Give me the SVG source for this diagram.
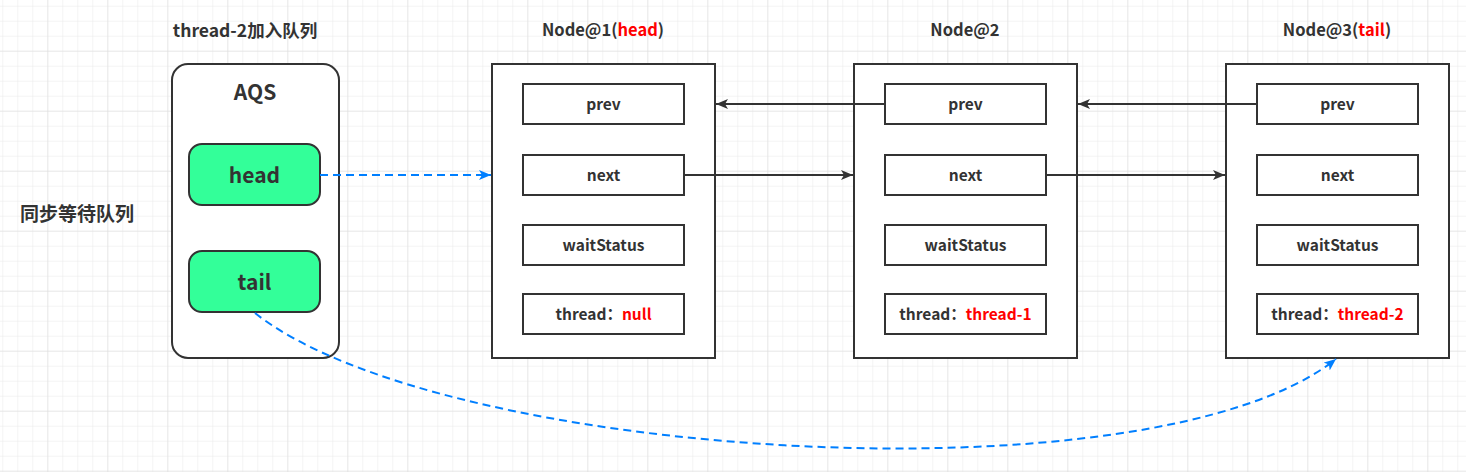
<svg xmlns="http://www.w3.org/2000/svg" width="1466" height="472" viewBox="0 0 1466 472">
<defs>
<pattern id="minor" x="3.3" y="6.7" width="15" height="15" patternUnits="userSpaceOnUse">
<path d="M15 0V15M0 15H15" fill="none" stroke="#e9e9e9" stroke-width="1"/>
</pattern>
<pattern id="major" x="-11.7" y="-8.3" width="60" height="60" patternUnits="userSpaceOnUse">
<path d="M60 0V60M0 60H60" fill="none" stroke="#dcdcdc" stroke-width="1"/>
</pattern>
<marker id="blk" markerWidth="14" markerHeight="12" refX="12" refY="5" orient="auto" markerUnits="userSpaceOnUse">
<path d="M0,0 L12,5 L0,10 L3,5 Z" fill="#333"/>
</marker>
<marker id="blu" markerWidth="14" markerHeight="12" refX="12" refY="5" orient="auto" markerUnits="userSpaceOnUse">
<path d="M0,0 L12,5 L0,10 L3,5 Z" fill="#007FFF"/>
</marker>
</defs>
<style>
text{font-family:"Noto Sans CJK SC","Noto Sans",sans-serif;font-weight:bold;fill:#333;text-anchor:middle;dominant-baseline:central}
.red{fill:#FF0000}
.box{fill:#fff;stroke:#333;stroke-width:2}
.fld{fill:#fff;stroke:#333;stroke-width:2}
.ptr{fill:#33FF99;stroke:#333;stroke-width:2}
.f{font-size:15.5px}
.t{font-size:16.5px}
.solid{fill:none;stroke:#333;stroke-width:2;marker-end:url(#blk)}
.dash{fill:none;stroke:#007FFF;stroke-width:2;stroke-dasharray:8 5;marker-end:url(#blu)}
</style>
<rect width="1466" height="472" fill="#fff"/>
<rect width="1466" height="472" fill="url(#minor)"/>
<rect width="1466" height="472" fill="url(#major)"/>

<g id="title"><text x="245" y="29" style="font-size:17.5px">thread-2加入队列</text></g>
<g id="label-queue"><text x="77" y="212" style="font-size:19px">同步等待队列</text></g>

<g id="aqs">
<rect x="172" y="64" width="167" height="294" rx="16" class="box"/>
<text x="255" y="91" style="font-size:21px">AQS</text>
</g>
<g id="head">
<rect x="189" y="144" width="131" height="61" rx="13" class="ptr"/>
<text x="254.5" y="174" style="font-size:21px">head</text>
</g>
<g id="tail">
<rect x="189" y="251" width="131" height="61" rx="13" class="ptr"/>
<text x="254.5" y="281" style="font-size:21px">tail</text>
</g>

<g id="node1">
<text x="603" y="29" class="t">Node@1(<tspan class="red">head</tspan>)</text>
<rect x="492" y="64" width="223" height="294" class="box"/>
<rect x="523" y="84" width="161" height="40" class="fld"/><text x="603.5" y="103" class="f">prev</text>
<rect x="523" y="155" width="161" height="40" class="fld"/><text x="603.5" y="174" class="f">next</text>
<rect x="523" y="225" width="161" height="40" class="fld"/><text x="603.5" y="244" class="f">waitStatus</text>
<rect x="523" y="294" width="161" height="40" class="fld"/><text x="603.5" y="313" class="f">thread：<tspan class="red">null</tspan></text>
</g>

<g id="node2">
<text x="965" y="29" class="t">Node@2</text>
<rect x="854" y="64" width="223" height="294" class="box"/>
<rect x="885" y="84" width="161" height="40" class="fld"/><text x="965.5" y="103" class="f">prev</text>
<rect x="885" y="155" width="161" height="40" class="fld"/><text x="965.5" y="174" class="f">next</text>
<rect x="885" y="225" width="161" height="40" class="fld"/><text x="965.5" y="244" class="f">waitStatus</text>
<rect x="885" y="294" width="161" height="40" class="fld"/><text x="965.5" y="313" class="f">thread：<tspan class="red">thread-1</tspan></text>
</g>

<g id="node3">
<text x="1337" y="29" class="t">Node@3(<tspan class="red">tail</tspan>)</text>
<rect x="1226" y="64" width="223" height="294" class="box"/>
<rect x="1257" y="84" width="161" height="40" class="fld"/><text x="1337.5" y="103" class="f">prev</text>
<rect x="1257" y="155" width="161" height="40" class="fld"/><text x="1337.5" y="174" class="f">next</text>
<rect x="1257" y="225" width="161" height="40" class="fld"/><text x="1337.5" y="244" class="f">waitStatus</text>
<rect x="1257" y="294" width="161" height="40" class="fld"/><text x="1337.5" y="313" class="f">thread：<tspan class="red">thread-2</tspan></text>
</g>

<g id="connectors">
<path d="M885,104 H716" class="solid"/>
<path d="M684,175 H853" class="solid"/>
<path d="M1257,104 H1078" class="solid"/>
<path d="M1046,175 H1225" class="solid"/>
<path d="M320,175 H491" class="dash"/>
<path d="M255,313 C440,460 1152,505 1336,359" class="dash"/>
</g>
</svg>
